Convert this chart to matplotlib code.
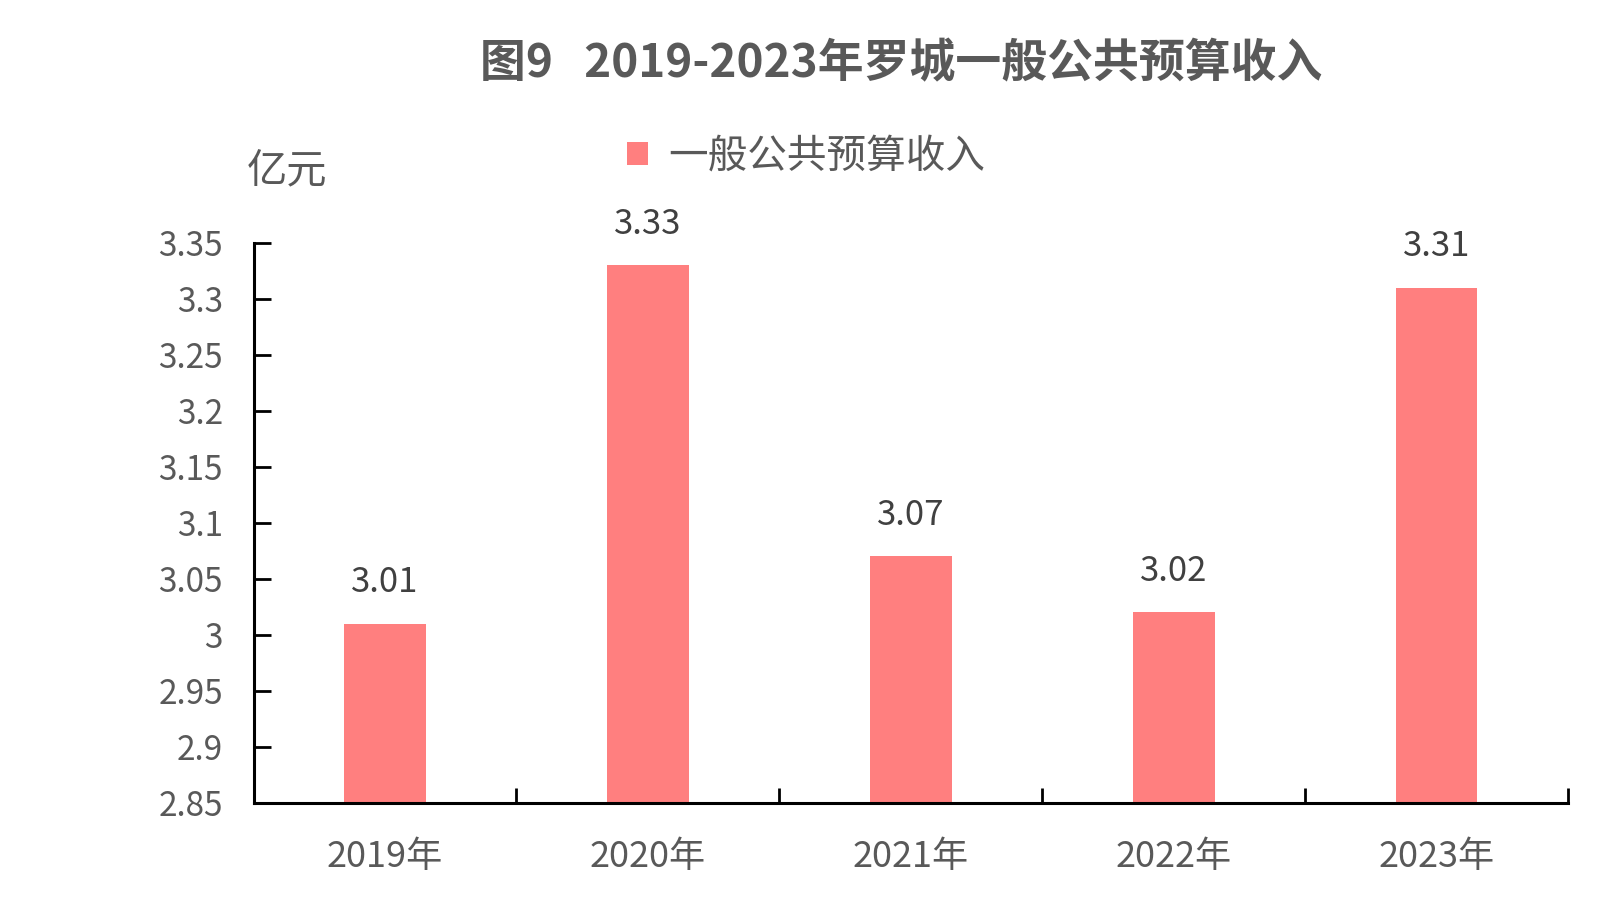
import matplotlib
matplotlib.use("Agg")
import matplotlib.pyplot as plt

plt.rcParams['font.family'] = ['Noto Sans CJK SC', 'DejaVu Sans']

# data
years = ['2019年', '2020年', '2021年', '2022年', '2023年']
income = [3.01, 3.33, 3.07, 3.02, 3.31]
y_ticks = [2.85, 2.9, 2.95, 3, 3.05, 3.1, 3.15, 3.2, 3.25, 3.3, 3.35]
y_tick_labels = ['2.85', '2.9', '2.95', '3', '3.05', '3.1', '3.15', '3.2', '3.25', '3.3', '3.35']

bar_color = '#FF7F7F'
text_color = '#595959'

fig = plt.figure(figsize=(16.15, 9.1), dpi=100)
ax = fig.add_axes([0.157, 0.118, 0.814, 0.615])

x = list(range(len(years)))
bars = ax.bar(x, income, width=0.31, color=bar_color, label='一般公共预算收入', zorder=2)

ax.set_xlim(-0.5, len(years) - 0.5)
ax.set_ylim(2.85, 3.35)
ax.set_yticks(y_ticks)
ax.set_yticklabels(y_tick_labels)
ax.set_xticks(x)
ax.set_xticklabels(years)

# category boundary ticks on x axis
ax.set_xticks([i + 0.5 for i in range(len(years))], minor=True)
ax.tick_params(axis='x', which='major', length=0, pad=26, labelsize=26, labelcolor=text_color)
ax.tick_params(axis='x', which='minor', direction='in', length=11, width=2, color='black')
ax.tick_params(axis='y', direction='in', length=12, width=2, pad=22, labelsize=24, labelcolor=text_color)

for side in ['top', 'right']:
    ax.spines[side].set_visible(False)
for side in ['left', 'bottom']:
    ax.spines[side].set_linewidth(2.2)
    ax.spines[side].set_color('black')

# value labels
for xi, v in zip(x, income):
    ax.annotate(f'{v:.2f}', (xi, v), xytext=(0, 17), textcoords='offset points',
                ha='center', va='bottom', fontsize=25, color='#404040')

fig.text(0.558, 0.929, '图9   2019-2023年罗城一般公共预算收入', ha='center', va='center',
         fontsize=33, fontweight='bold', color=text_color)
fig.text(0.153, 0.812, '亿元', ha='left', va='center', fontsize=29, color=text_color)

leg = fig.legend(loc='center', bbox_to_anchor=(0.499, 0.828), frameon=False, fontsize=28.5,
                 handlelength=0.55, handleheight=0.55, handletextpad=0.5)
for t in leg.get_texts():
    t.set_color(text_color)

fig.savefig('out.png', dpi=100)
